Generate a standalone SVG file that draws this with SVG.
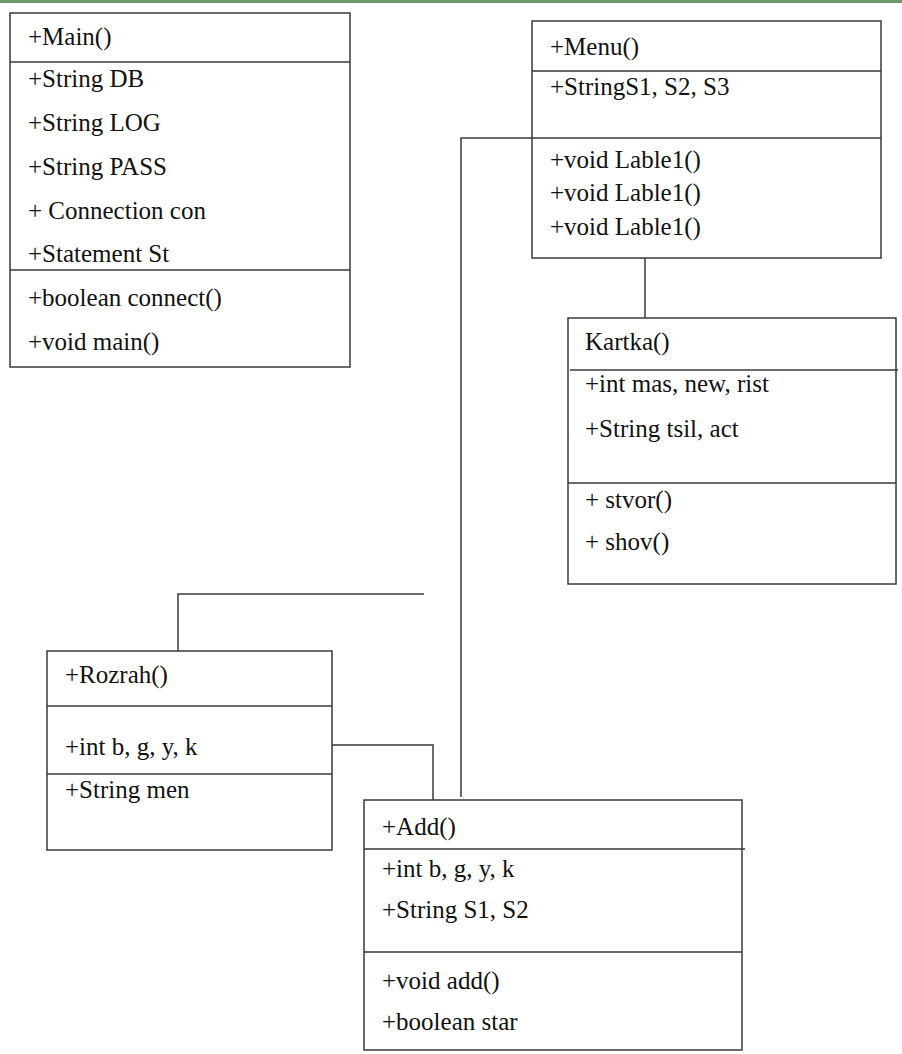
<svg xmlns="http://www.w3.org/2000/svg" width="902" height="1054" viewBox="0 0 902 1054">
<style>
.box{fill:#fff;stroke:#3a3a3a;stroke-width:1.5}
.ln{fill:none;stroke:#3a3a3a;stroke-width:1.5}
.t{font-family:'Liberation Serif','Tinos','Times New Roman','DejaVu Serif',serif;font-size:25px;fill:#111}
</style>
<rect x="0" y="0" width="902" height="3" fill="#6b9a6b"/>
<g id="connectors">
<path class="ln" d="M645 258V318"/>
<path class="ln" d="M532 138H461V797"/>
<path class="ln" d="M178 651V594H424"/>
<path class="ln" d="M332 745H433V800"/>
</g>
<g id="main" class="t">
<rect class="box" x="10" y="13" width="340" height="354"/>
<path class="ln" d="M10 62H350M10 270H350"/>
<text x="28" y="45">+Main()</text>
<text x="28" y="87">+String DB</text>
<text x="28" y="131">+String LOG</text>
<text x="28" y="175">+String PASS</text>
<text x="28" y="219">+ Connection con</text>
<text x="28" y="262">+Statement St</text>
<text x="28" y="306">+boolean connect()</text>
<text x="28" y="350">+void main()</text>
</g>
<g id="menu" class="t">
<rect class="box" x="532" y="21" width="349" height="237"/>
<path class="ln" d="M532 71H881M532 138H881"/>
<text x="550" y="55">+Menu()</text>
<text x="550" y="95">+StringS1, S2, S3</text>
<text x="550" y="168">+void Lable1()</text>
<text x="550" y="201">+void Lable1()</text>
<text x="550" y="235">+void Lable1()</text>
</g>
<g id="kartka" class="t">
<rect class="box" x="568" y="318" width="328" height="266"/>
<path class="ln" d="M570 370H898M568 483H896"/>
<text x="585" y="350">Kartka()</text>
<text x="585" y="392">+int mas, new, rist</text>
<text x="585" y="437">+String tsil, act</text>
<text x="585" y="508">+ stvor()</text>
<text x="585" y="550">+ shov()</text>
</g>
<g id="rozrah" class="t">
<rect class="box" x="47" y="651" width="285" height="199"/>
<path class="ln" d="M47 706H332M47 774H332"/>
<text x="65" y="683">+Rozrah()</text>
<text x="65" y="755">+int b, g, y, k</text>
<text x="65" y="798">+String men</text>
</g>
<g id="add" class="t">
<rect class="box" x="364" y="800" width="378" height="250"/>
<path class="ln" d="M364 849H745M364 952H742"/>
<text x="382" y="835">+Add()</text>
<text x="382" y="877">+int b, g, y, k</text>
<text x="382" y="918">+String S1, S2</text>
<text x="382" y="989">+void add()</text>
<text x="382" y="1030">+boolean star</text>
</g>
</svg>
